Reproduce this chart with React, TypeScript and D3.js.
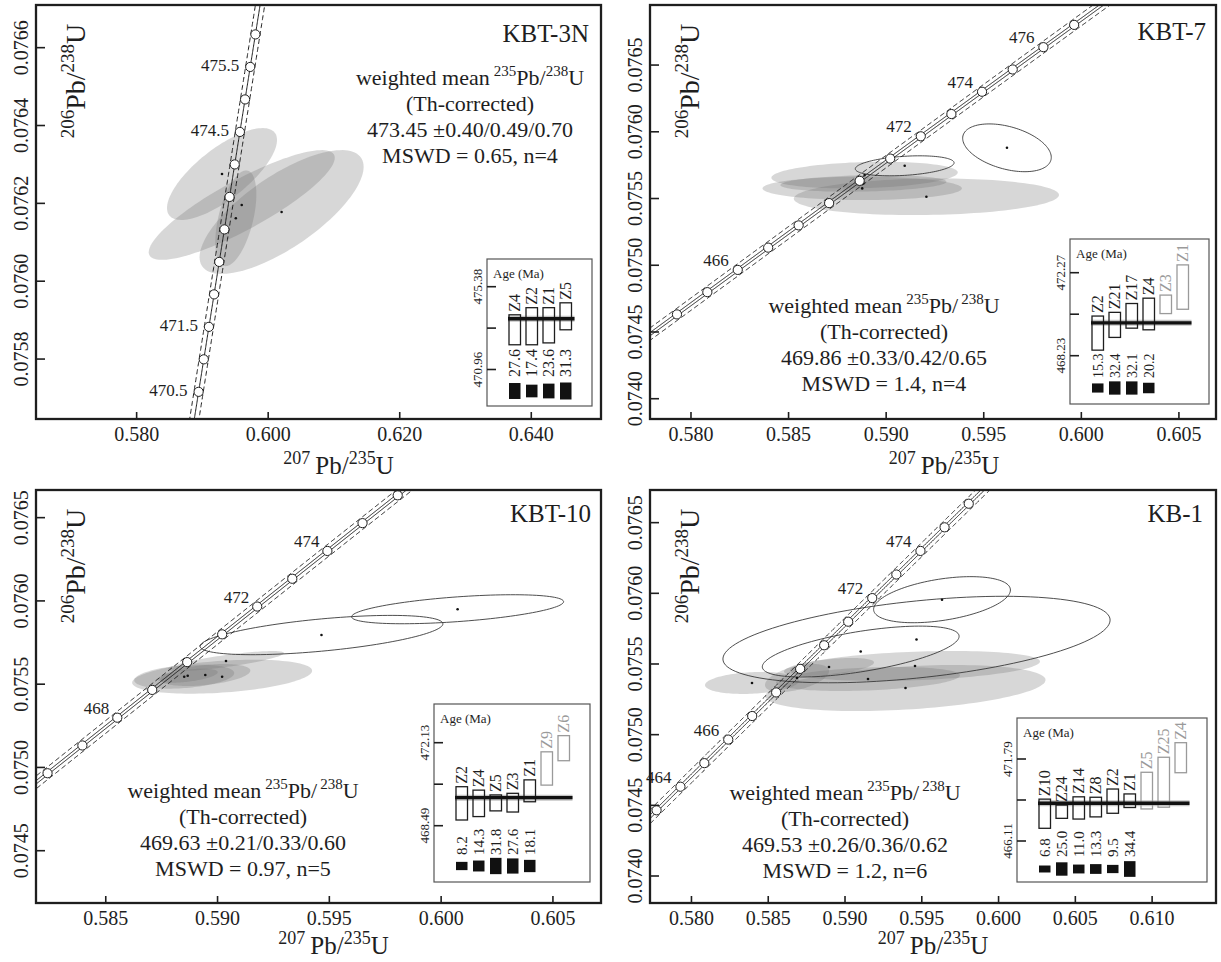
import React from "react";
import * as d3 from "d3";

// ---------- constants of the U-Pb system ----------
const LAMBDA_238 = 1.55125e-10;
const LAMBDA_235 = 9.8485e-10;

// ---------- panel texts ----------
const sampleNames = ["KBT-3N", "KBT-7", "KBT-10", "KB-1"];
const meanResults = [
  "473.45 ±0.40/0.49/0.70",
  "469.86 ±0.33/0.42/0.65",
  "469.63 ±0.21/0.33/0.60",
  "469.53 ±0.26/0.36/0.62",
];
const mswdLabels = ["MSWD = 0.65, n=4", "MSWD = 1.4, n=4", "MSWD = 0.97, n=5", "MSWD = 1.2, n=6"];

// ---------- axes ----------
const xDomains = [
  [0.5647, 0.6506],
  [0.5779, 0.6069],
  [0.58188, 0.60715],
  [0.5773, 0.61416],
];
const yDomains = [
  [0.075646, 0.0767096],
  [0.073848, 0.07695],
  [0.074186, 0.076666],
  [0.073809, 0.076731],
];
const xTicks = [
  [0.58, 0.6, 0.62, 0.64],
  [0.58, 0.585, 0.59, 0.595, 0.6, 0.605],
  [0.585, 0.59, 0.595, 0.6, 0.605],
  [0.58, 0.585, 0.59, 0.595, 0.6, 0.605, 0.61],
];
const yTicks = [
  [0.0758, 0.076, 0.0762, 0.0764, 0.0766],
  [0.074, 0.0745, 0.075, 0.0755, 0.076, 0.0765],
  [0.0745, 0.075, 0.0755, 0.076, 0.0765],
  [0.074, 0.0745, 0.075, 0.0755, 0.076, 0.0765],
];

// ---------- concordia age markers (Ma) ----------
const markerAges3N = [470.5, 471, 471.5, 472, 472.5, 473, 473.5, 474, 474.5, 475, 475.5, 476];
const labelAges3N = [470.5, 471.5, 474.5, 475.5];
const markerAges7 = [464, 465, 466, 467, 468, 469, 470, 471, 472, 473, 474, 475, 476, 477];
const labelAges7 = [466, 472, 474, 476];
const markerAges10 = [466, 467, 468, 469, 470, 471, 472, 473, 474, 475, 476];
const labelAges10 = [468, 472, 474];
const markerAgesKB1 = [463, 464, 465, 466, 467, 468, 469, 470, 471, 472, 473, 474, 475, 476];
const labelAgesKB1 = [464, 466, 472, 474];

// ---------- error ellipses: 207Pb/235U, 206Pb/238U, half-extents, correlation ----------
const ellipses3N = [
  { x: 0.59298, y: 0.0762754, sx: 0.00836, sy: 0.000118, rho: 0.74, used: true },
  { x: 0.59598, y: 0.0761958, sx: 0.01414, sy: 0.000141, rho: 0.86, used: true },
  { x: 0.60204, y: 0.0761778, sx: 0.01247, sy: 0.000159, rho: 0.73, used: true },
  { x: 0.59508, y: 0.0761616, sx: 0.00312, sy: 0.000123, rho: 0.5, used: true },
];
const ellipses7 = [
  { x: 0.588895, y: 0.0756756, sx: 0.004775, sy: 0.0000997, rho: 0.2, used: true },
  { x: 0.588773, y: 0.075576, sx: 0.005108, sy: 0.0000877, rho: 0.0, used: true },
  { x: 0.592062, y: 0.075513, sx: 0.006794, sy: 0.000137, rho: 0.1, used: true },
  { x: 0.588834, y: 0.0756134, sx: 0.004253, sy: 0.0000622, rho: 0.2, used: true },
  { x: 0.59095, y: 0.075745, sx: 0.00253, sy: 0.000075, rho: 0.3, used: false },
  { x: 0.59619, y: 0.07588, sx: 0.00227, sy: 0.000179, rho: -0.4, used: false },
];
const ellipses10 = [
  { x: 0.590204, y: 0.075545, sx: 0.004025, sy: 0.000102, rho: 0.35, used: true },
  { x: 0.590378, y: 0.075639, sx: 0.002594, sy: 0.00006, rho: 0.8, used: true },
  { x: 0.589452, y: 0.075555, sx: 0.002013, sy: 0.000066, rho: 0.4, used: true },
  { x: 0.588509, y: 0.075545, sx: 0.002236, sy: 0.000072, rho: 0.3, used: true },
  { x: 0.588665, y: 0.075551, sx: 0.001342, sy: 0.000042, rho: 0.5, used: true },
  { x: 0.594649, y: 0.075795, sx: 0.00543, sy: 0.000118, rho: 0.57, used: false },
  { x: 0.600737, y: 0.07595, sx: 0.00474, sy: 0.0000871, rho: 0.52, used: false },
];
const ellipsesKB1 = [
  { x: 0.583943, y: 0.075366, sx: 0.003061, sy: 0.0000778, rho: 0.2, used: true },
  { x: 0.59394, y: 0.07533, sx: 0.009118, sy: 0.000163, rho: 0.35, used: true },
  { x: 0.594558, y: 0.075486, sx: 0.008141, sy: 0.000106, rho: 0.3, used: true },
  { x: 0.591497, y: 0.075394, sx: 0.005992, sy: 0.0000849, rho: 0.3, used: true },
  { x: 0.588957, y: 0.075479, sx: 0.002931, sy: 0.0000637, rho: 0.5, used: true },
  { x: 0.586873, y: 0.075401, sx: 0.002084, sy: 0.000099, rho: 0.5, used: true },
  { x: 0.591022, y: 0.075588, sx: 0.006408, sy: 0.00018, rho: 0.6, used: false },
  { x: 0.594656, y: 0.075673, sx: 0.012608, sy: 0.000306, rho: 0.45, used: false },
  { x: 0.596317, y: 0.075955, sx: 0.004455, sy: 0.000163, rho: 0.42, used: false },
];

// ---------- inset: single-grain ages (Ma, 2σ) ----------
const grains3N = [
  { grain: "Z4", age: 473.08, err: 0.8, used: true },
  { grain: "Z2", age: 473.27, err: 0.99, used: true },
  { grain: "Z1", age: 473.32, err: 0.94, used: true },
  { grain: "Z5", age: 473.8, err: 0.72, used: true },
];
const weights3N = [27.6, 17.4, 23.6, 31.3];
const grains7 = [
  { grain: "Z2", age: 469.33, err: 0.83, used: true },
  { grain: "Z21", age: 469.73, err: 0.61, used: true },
  { grain: "Z17", age: 470.17, err: 0.6, used: true },
  { grain: "Z4", age: 470.26, err: 0.77, used: true },
  { grain: "Z3", age: 470.73, err: 0.45, used: false },
  { grain: "Z1", age: 471.57, err: 1.08, used: false },
];
const weights7 = [15.3, 32.4, 32.1, 20.2];
const grains10 = [
  { grain: "Z2", age: 469.47, err: 0.73, used: true },
  { grain: "Z4", age: 469.47, err: 0.58, used: true },
  { grain: "Z5", age: 469.49, err: 0.35, used: true },
  { grain: "Z3", age: 469.5, err: 0.41, used: true },
  { grain: "Z1", age: 470.02, err: 0.48, used: true },
  { grain: "Z9", age: 471.0, err: 0.73, used: false },
  { grain: "Z6", age: 471.89, err: 0.55, used: false },
];
const weights10 = [8.2, 14.3, 31.8, 27.6, 18.1];
const grainsKB1 = [
  { grain: "Z10", age: 468.0, err: 1.01, used: true },
  { grain: "Z24", age: 468.14, err: 0.46, used: true },
  { grain: "Z14", age: 468.4, err: 0.77, used: true },
  { grain: "Z8", age: 468.46, err: 0.68, used: true },
  { grain: "Z2", age: 468.87, err: 0.84, used: true },
  { grain: "Z1", age: 468.9, err: 0.47, used: true },
  { grain: "Z5", age: 469.6, err: 1.27, used: false },
  { grain: "Z25", age: 470.18, err: 1.73, used: false },
  { grain: "Z4", age: 471.88, err: 1.04, used: false },
];
const weightsKB1 = [6.8, 25.0, 11.0, 13.3, 9.5, 34.4];

const insetTicks = [
  [470.96, 473.17, 475.38],
  [468.23, 470.25, 472.27],
  [468.49, 470.31, 472.13],
  [466.11, 468.95, 471.79],
];
const insetMeans = [473.67, 469.83, 469.72, 468.72];

// ---------- layout (pixels) ----------
const LAYOUT = [
  { left: 36, right: 601, top: 5, bottom: 419, titleX: 589, titleY: 42, blockX: 470, blockY: 85, xTitleDx: 20, xTitleDy: 55, labelDx: -11, labelDy: 4, dash: 4.6, double: false,
    inset: { right: 592, top: 259, bottom: 406, tickTop: 286.7, tickBottom: 369.5, numBase: 377, sqY: 391, sqMax: 17, numFont: 16 } },
  { left: 650, right: 1216, top: 5, bottom: 419, titleX: 1206, titleY: 40, blockX: 884, blockY: 313, xTitleDx: 11, xTitleDy: 55, labelDx: -9, labelDy: -4, dash: 5, double: true,
    inset: { right: 1209, top: 239, bottom: 404, tickTop: 272.7, tickBottom: 355.7, numBase: 378, sqY: 388, sqMax: 13.3, numFont: 14 } },
  { left: 36, right: 601, top: 490, bottom: 903, titleX: 591, titleY: 522, blockX: 243, blockY: 798, xTitleDx: 15, xTitleDy: 51, labelDx: -8, labelDy: -4, dash: 5, double: true,
    inset: { right: 590, top: 704, bottom: 882, tickTop: 742.7, tickBottom: 825.7, numBase: 855, sqY: 866, sqMax: 16.3, numFont: 15 } },
  { left: 650, right: 1216, top: 490, bottom: 903, titleX: 1203, titleY: 522, blockX: 845, blockY: 800, xTitleDx: 0, xTitleDy: 51, labelDx: -9, labelDy: -4, dash: 5, double: true,
    inset: { right: 1207, top: 718, bottom: 882, tickTop: 759, tickBottom: 841, numBase: 857, sqY: 869, sqMax: 15.7, numFont: 15 } },
];

const PANELS = [
  { markers: markerAges3N, labels: labelAges3N, ellipses: ellipses3N, grains: grains3N, weights: weights3N },
  { markers: markerAges7, labels: labelAges7, ellipses: ellipses7, grains: grains7, weights: weights7 },
  { markers: markerAges10, labels: labelAges10, ellipses: ellipses10, grains: grains10, weights: weights10 },
  { markers: markerAgesKB1, labels: labelAgesKB1, ellipses: ellipsesKB1, grains: grainsKB1, weights: weightsKB1 },
];

const FONT = "'Liberation Serif', 'Times New Roman', Times, serif";
const INK = "#1e1e1e";

function concordia(tMa: number): [number, number] {
  return [Math.expm1(LAMBDA_235 * tMa * 1e6), Math.expm1(LAMBDA_238 * tMa * 1e6)];
}

function offsetLine(pts: [number, number][], d: number): [number, number][] {
  return pts.map((p, i) => {
    const a = pts[Math.max(0, i - 1)];
    const b = pts[Math.min(pts.length - 1, i + 1)];
    const tx = b[0] - a[0];
    const ty = b[1] - a[1];
    const len = Math.hypot(tx, ty) || 1;
    return [p[0] + (-ty / len) * d, p[1] + (tx / len) * d];
  });
}

function Panel({ idx }: { idx: number }) {
  const L = LAYOUT[idx];
  const P = PANELS[idx];
  const xs = d3.scaleLinear().domain(xDomains[idx]).range([L.left, L.right]);
  const ys = d3.scaleLinear().domain(yDomains[idx]).range([L.bottom, L.top]);
  const clipId = `clip-${idx}`;

  // concordia curve
  const tLo = P.markers[0] - 4;
  const tHi = P.markers[P.markers.length - 1] + 4;
  const ts = d3.range(tLo, tHi, 0.02);
  const pts: [number, number][] = ts.map((t) => {
    const [cx, cy] = concordia(t);
    return [xs(cx), ys(cy)];
  });
  const line = d3.line();
  const solidOffsets = L.double ? [-1.3, 1.3] : [0];

  // ellipses
  const ellPath = (e: any) => {
    const s = Math.sqrt(1 - e.rho * e.rho);
    const pp: [number, number][] = d3.range(0, 2 * Math.PI + 0.001, Math.PI / 60).map((th) => [
      xs(e.x + e.sx * Math.cos(th)),
      ys(e.y + e.sy * (e.rho * Math.cos(th) + s * Math.sin(th))),
    ]);
    return d3.line()(pp) + "Z";
  };

  // inset
  const I = L.inset;
  const n = P.grains.length;
  const pitch = 17;
  const bw = 11.5;
  const boxW = 22 + pitch * n + 15;
  const boxL = I.right - boxW;
  const tk = insetTicks[idx];
  const ia = d3.scaleLinear().domain([tk[0], tk[2]]).range([I.tickBottom, I.tickTop]);
  const hs = d3.scaleSqrt().domain([0, d3.max(P.weights) as number]).range([0, I.sqMax]);
  const barX = (i: number) => boxL + 22 + i * pitch;
  const meanY = ia(insetMeans[idx]);
  const usedCount = P.weights.length;
  const fmtY = d3.format(".4f");
  const fmtX = d3.format(".3f");

  return (
    <g>
      <defs>
        <clipPath id={clipId}>
          <rect x={L.left} y={L.top} width={L.right - L.left} height={L.bottom - L.top} />
        </clipPath>
      </defs>
      <g clipPath={`url(#${clipId})`}>
        {P.ellipses.filter((e) => e.used).map((e, i) => (
          <path key={"f" + i} d={ellPath(e)} fill="#6e6e6e" fillOpacity={0.28} stroke="none" />
        ))}
        {P.ellipses.filter((e) => !e.used).map((e, i) => (
          <path key={"o" + i} d={ellPath(e)} fill="none" stroke="#3a3a3a" strokeWidth={0.9} />
        ))}
        {P.ellipses.map((e, i) => (
          <circle key={"d" + i} cx={xs(e.x)} cy={ys(e.y)} r={1.3} fill="#111" />
        ))}
        {[-L.dash, L.dash].map((d, i) => (
          <path key={"dash" + i} d={line(offsetLine(pts, d)) || ""} fill="none" stroke={INK} strokeWidth={1} strokeDasharray="5,3" />
        ))}
        {solidOffsets.map((d, i) => (
          <path key={"sol" + i} d={line(offsetLine(pts, d)) || ""} fill="none" stroke={INK} strokeWidth={1} />
        ))}
        {P.markers.map((t) => {
          const [cx, cy] = concordia(t);
          return <circle key={"m" + t} cx={xs(cx)} cy={ys(cy)} r={4.6} fill="#fff" stroke={INK} strokeWidth={1} />;
        })}
      </g>
      {P.labels.map((t) => {
        const [cx, cy] = concordia(t);
        return (
          <text key={"l" + t} x={xs(cx) + L.labelDx} y={ys(cy) + L.labelDy} textAnchor="end" fontSize={17} fill={INK}>
            {String(t)}
          </text>
        );
      })}

      {/* sample name */}
      <text x={L.titleX} y={L.titleY} textAnchor="end" fontSize={25} fill={INK}>
        {sampleNames[idx]}
      </text>

      {/* weighted mean block */}
      <g fontSize={22} fill={INK} textAnchor="middle">
        <text x={L.blockX} y={L.blockY}>
          weighted mean<tspan fontSize={15} dy={-9} dx={4}>235</tspan>
          <tspan dy={9}>Pb/</tspan>
          <tspan fontSize={15} dy={-9} dx={idx === 0 ? 0 : 3}>238</tspan>
          <tspan dy={9}>U</tspan>
        </text>
        <text x={L.blockX} y={L.blockY + 26}>(Th-corrected)</text>
        <text x={L.blockX} y={L.blockY + 52}>{meanResults[idx]}</text>
        <text x={L.blockX} y={L.blockY + 78}>{mswdLabels[idx]}</text>
      </g>

      {/* inset */}
      <g>
        <rect x={boxL} y={I.top} width={boxW} height={I.bottom - I.top} fill="#fff" stroke="#555" strokeWidth={1.2} />
        <text x={boxL + 6} y={I.top + 19} fontSize={13} fill={INK}>Age (Ma)</text>
        {tk.map((v, i) => (
          <line key={"it" + i} x1={boxL} x2={boxL + 9} y1={ia(v)} y2={ia(v)} stroke={INK} strokeWidth={1.6} />
        ))}
        {[tk[0], tk[2]].map((v, i) => (
          <text key={"itl" + i} transform={`translate(${boxL - 5},${ia(v)}) rotate(-90)`} textAnchor="middle" fontSize={13} fill={INK}>
            {v.toFixed(2)}
          </text>
        ))}
        <line x1={barX(0) - 1} x2={barX(n - 1) + bw + 3} y1={meanY} y2={meanY} stroke="#c4c4c4" strokeWidth={6} />
        {P.grains.map((g, i) => {
          const y1 = ia(g.age + g.err);
          const y2 = ia(g.age - g.err);
          const col = g.used ? INK : "#9a9a9a";
          return (
            <g key={"b" + i}>
              <rect x={barX(i)} y={y1} width={bw} height={y2 - y1} fill="none" stroke={col} strokeWidth={1.3} />
              <text transform={`translate(${barX(i) + bw - 0.5},${y1 - 3}) rotate(-90)`} fontSize={16} fill={col}>
                {g.grain}
              </text>
            </g>
          );
        })}
        <line x1={barX(0) - 1} x2={barX(n - 1) + bw + 3} y1={meanY} y2={meanY} stroke="#111" strokeWidth={3.4} />
        {P.weights.slice(0, usedCount).map((w, i) => {
          const h = hs(w);
          return (
            <g key={"w" + i}>
              <text transform={`translate(${barX(i) + bw - 0.5},${I.numBase}) rotate(-90)`} fontSize={I.numFont} fill={INK}>
                {w.toFixed(1)}
              </text>
              <rect x={barX(i)} y={I.sqY - h / 2} width={bw} height={h} fill="#111" />
            </g>
          );
        })}
      </g>

      {/* axes */}
      {xTicks[idx].map((v) => (
        <g key={"xt" + v}>
          <line x1={xs(v)} x2={xs(v)} y1={L.bottom} y2={L.bottom - 7} stroke={INK} strokeWidth={1.6} />
          <text x={xs(v)} y={L.bottom + 22} textAnchor="middle" fontSize={20} fill={INK}>
            {fmtX(v)}
          </text>
        </g>
      ))}
      {yTicks[idx].map((v) => (
        <g key={"yt" + v}>
          <line x1={L.left} x2={L.left + 9} y1={ys(v)} y2={ys(v)} stroke={INK} strokeWidth={1.6} />
          <text transform={`translate(${L.left - 8},${ys(v)}) rotate(-90)`} textAnchor="middle" fontSize={20} fill={INK}>
            {fmtY(v)}
          </text>
        </g>
      ))}
      <text x={(L.left + L.right) / 2 + L.xTitleDx} y={L.bottom + L.xTitleDy} textAnchor="middle" fontSize={25} fill={INK}>
        <tspan fontSize={18} dy={-10}>207</tspan>
        <tspan dy={10} dx={5}>Pb/</tspan>
        <tspan fontSize={18} dy={-10}>235</tspan>
        <tspan dy={10}>U</tspan>
      </text>
      <text transform={`translate(${L.left + 49},${L.top + 76}) rotate(-90)`} textAnchor="middle" fontSize={28} fill={INK}>
        <tspan fontSize={19} dy={-11}>206</tspan>
        <tspan dy={11}>Pb/</tspan>
        <tspan fontSize={19} dy={-11}>238</tspan>
        <tspan dy={11}>U</tspan>
      </text>
      <rect x={L.left} y={L.top} width={L.right - L.left} height={L.bottom - L.top} fill="none" stroke={INK} strokeWidth={2.3} />
    </g>
  );
}

export default function App() {
  return (
    <svg
      width={1221}
      height={962}
      viewBox="0 0 1221 962"
      style={{ position: "absolute", left: 0, top: 0, background: "#fff" }}
      fontFamily={FONT}
    >
      <rect x={0} y={0} width={1221} height={962} fill="#fff" />
      {[0, 1, 2, 3].map((i) => (
        <Panel key={i} idx={i} />
      ))}
    </svg>
  );
}
